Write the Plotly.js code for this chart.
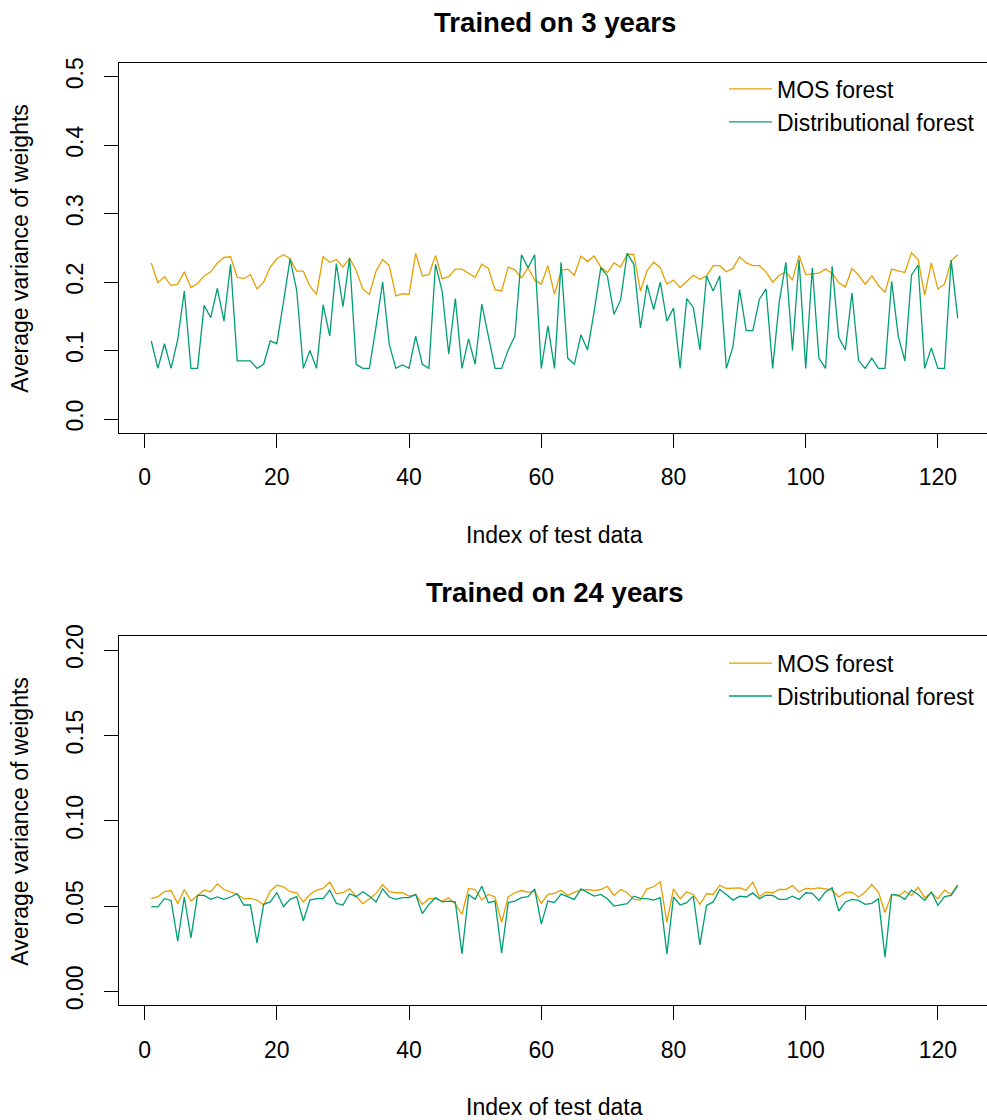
<!DOCTYPE html>
<html>
<head>
<meta charset="utf-8">
<script src="https://cdn.plot.ly/plotly-3.0.1.min.js"></script>
<style>
html, body { margin: 0; padding: 0; overflow: hidden; background: #fff; }
#chart { width: 990px; height: 1120px; }
</style>
</head>
<body>
<div id="chart"></div>
<script>
// x index of test data (1..123)
var testIndex = [];
for (var k = 1; k <= 123; k++) testIndex.push(k);

var seriesNames = ["MOS forest", "Distributional forest"];
var panelTitles = ["Trained on 3 years", "Trained on 24 years"];
var xLabel = "Index of test data";
var yLabel = "Average variance of weights";

var xTicks = [0, 20, 40, 60, 80, 100, 120];
var yTicksTop = [0, 0.1, 0.2, 0.3, 0.4, 0.5];
var yTickTextTop = ["0.0", "0.1", "0.2", "0.3", "0.4", "0.5"];
var yTicksBottom = [0, 0.05, 0.10, 0.15, 0.20];
var yTickTextBottom = ["0.00", "0.05", "0.10", "0.15", "0.20"];

// Trained on 3 years
var mos3 = [
0.228,0.199,0.208,0.195,0.197,0.215,0.192,0.198,0.209,0.215,
0.228,0.236,0.237,0.207,0.205,0.211,0.190,0.200,0.222,0.234,
0.240,0.234,0.216,0.216,0.194,0.182,0.237,0.229,0.233,0.222,
0.235,0.217,0.190,0.182,0.216,0.233,0.224,0.180,0.183,0.182,
0.242,0.209,0.211,0.239,0.205,0.208,0.219,0.219,0.213,0.207,
0.226,0.220,0.189,0.187,0.222,0.218,0.206,0.221,0.203,0.197,
0.224,0.182,0.217,0.219,0.210,0.238,0.230,0.238,0.222,0.214,
0.228,0.222,0.241,0.240,0.187,0.217,0.229,0.221,0.197,0.203,
0.192,0.201,0.210,0.204,0.209,0.224,0.224,0.215,0.220,0.237,
0.228,0.224,0.224,0.215,0.200,0.210,0.215,0.203,0.239,0.211,
0.212,0.213,0.219,0.213,0.199,0.193,0.220,0.210,0.197,0.209,
0.195,0.185,0.219,0.216,0.214,0.243,0.233,0.181,0.228,0.190,
0.197,0.231,0.240];

var dist3 = [
0.114,0.074,0.110,0.074,0.116,0.187,0.074,0.074,0.166,0.148,
0.191,0.143,0.226,0.085,0.085,0.085,0.074,0.080,0.114,0.110,
0.171,0.234,0.188,0.074,0.100,0.074,0.167,0.121,0.227,0.164,
0.235,0.080,0.074,0.074,0.135,0.200,0.109,0.074,0.079,0.074,
0.121,0.080,0.074,0.226,0.187,0.095,0.176,0.074,0.117,0.080,
0.168,0.121,0.074,0.074,0.101,0.121,0.240,0.221,0.240,0.074,
0.136,0.074,0.229,0.089,0.080,0.123,0.101,0.157,0.221,0.209,
0.153,0.174,0.242,0.226,0.133,0.196,0.160,0.200,0.143,0.162,
0.074,0.176,0.163,0.101,0.209,0.187,0.209,0.074,0.106,0.189,
0.129,0.129,0.175,0.190,0.074,0.171,0.229,0.100,0.233,0.074,
0.221,0.089,0.074,0.223,0.119,0.101,0.184,0.085,0.074,0.089,
0.074,0.074,0.201,0.121,0.085,0.210,0.225,0.074,0.104,0.074,
0.074,0.232,0.147];

// Trained on 24 years
var mos24 = [
0.0543,0.0555,0.0584,0.0591,0.0514,0.0597,0.0529,0.0562,0.0593,0.0584,
0.0630,0.0597,0.0582,0.0568,0.0543,0.0545,0.0535,0.0506,0.0587,0.0622,
0.0613,0.0584,0.0578,0.0524,0.0568,0.0593,0.0603,0.0640,0.0572,0.0578,
0.0601,0.0555,0.0514,0.0543,0.0574,0.0626,0.0584,0.0578,0.0578,0.0558,
0.0568,0.0510,0.0543,0.0545,0.0529,0.0549,0.0510,0.0452,0.0603,0.0597,
0.0535,0.0568,0.0553,0.0404,0.0553,0.0578,0.0591,0.0582,0.0587,0.0516,
0.0568,0.0574,0.0593,0.0562,0.0582,0.0593,0.0597,0.0591,0.0597,0.0616,
0.0562,0.0597,0.0578,0.0539,0.0535,0.0601,0.0613,0.0642,0.0404,0.0601,
0.0543,0.0582,0.0568,0.0510,0.0572,0.0568,0.0622,0.0603,0.0603,0.0607,
0.0593,0.0640,0.0555,0.0582,0.0578,0.0597,0.0597,0.0620,0.0582,0.0603,
0.0601,0.0607,0.0601,0.0593,0.0553,0.0578,0.0582,0.0553,0.0582,0.0626,
0.0582,0.0462,0.0568,0.0558,0.0587,0.0562,0.0611,0.0549,0.0578,0.0543,
0.0593,0.0568,0.0626];

var dist24 = [
0.0497,0.0495,0.0543,0.0533,0.0294,0.0553,0.0313,0.0562,0.0562,0.0539,
0.0553,0.0539,0.0553,0.0572,0.0506,0.0506,0.0284,0.0510,0.0524,0.0578,
0.0497,0.0539,0.0555,0.0414,0.0535,0.0543,0.0543,0.0593,0.0516,0.0506,
0.0572,0.0555,0.0584,0.0558,0.0524,0.0601,0.0553,0.0539,0.0549,0.0549,
0.0568,0.0456,0.0510,0.0549,0.0524,0.0529,0.0524,0.0220,0.0568,0.0539,
0.0616,0.0520,0.0529,0.0224,0.0520,0.0529,0.0549,0.0555,0.0601,0.0394,
0.0529,0.0520,0.0570,0.0553,0.0539,0.0601,0.0578,0.0558,0.0568,0.0543,
0.0500,0.0506,0.0514,0.0558,0.0545,0.0543,0.0535,0.0549,0.0220,0.0553,
0.0506,0.0520,0.0558,0.0272,0.0504,0.0524,0.0597,0.0568,0.0535,0.0558,
0.0553,0.0577,0.0543,0.0564,0.0562,0.0539,0.0539,0.0558,0.0539,0.0578,
0.0574,0.0533,0.0584,0.0607,0.0471,0.0524,0.0539,0.0533,0.0510,0.0516,
0.0543,0.0201,0.0568,0.0564,0.0539,0.0593,0.0568,0.0533,0.0582,0.0504,
0.0555,0.0562,0.0620];

var colMOS = "#E69F00";
var colDist = "#009E73";
var FONT = "Liberation Sans, Arial, Helvetica, sans-serif";

var traces = [
  {x: testIndex, y: mos3, type: "scatter", mode: "lines", name: seriesNames[0],
   line: {color: colMOS, width: 1.3}, xaxis: "x", yaxis: "y", legend: "legend"},
  {x: testIndex, y: dist3, type: "scatter", mode: "lines", name: seriesNames[1],
   line: {color: colDist, width: 1.3}, xaxis: "x", yaxis: "y", legend: "legend"},
  {x: testIndex, y: mos24, type: "scatter", mode: "lines", name: seriesNames[0],
   line: {color: colMOS, width: 1.3}, xaxis: "x2", yaxis: "y2", legend: "legend2"},
  {x: testIndex, y: dist24, type: "scatter", mode: "lines", name: seriesNames[1],
   line: {color: colDist, width: 1.3}, xaxis: "x2", yaxis: "y2", legend: "legend2"}
];

function xAxisDef(anchor) {
  return {
    anchor: anchor, domain: [0, 1], range: [-3.88, 127.88],
    tickmode: "array", tickvals: xTicks,
    ticks: "outside", ticklen: 14, tickwidth: 1, tickcolor: "#000",
    ticklabelstandoff: 10,
    showline: true, mirror: true, linecolor: "#000", linewidth: 1,
    showgrid: false, zeroline: false,
    tickfont: {family: FONT, size: 23, color: "#000"}
  };
}
function yAxisDef(anchor, domain, range, vals, texts) {
  return {
    anchor: anchor, domain: domain, range: range,
    tickmode: "array", tickvals: vals, ticktext: texts, tickangle: -90,
    ticks: "outside", ticklen: 14, tickwidth: 1, tickcolor: "#000",
    ticklabelstandoff: 12,
    showline: true, mirror: true, linecolor: "#000", linewidth: 1,
    showgrid: false, zeroline: false,
    tickfont: {family: FONT, size: 23, color: "#000"}
  };
}

var legendDef = function (ytop) {
  return {
    x: 0.6946, y: ytop, xanchor: "left", yanchor: "top",
    bgcolor: "rgba(0,0,0,0)", borderwidth: 0,
    itemwidth: 43, tracegroupgap: 0,
    font: {family: FONT, size: 23, color: "#000"}
  };
};

var layout = {
  width: 990, height: 1120,
  margin: {l: 119, r: 0, t: 63, b: 115},
  paper_bgcolor: "#fff", plot_bgcolor: "#fff",
  font: {family: FONT, size: 23, color: "#000"},
  showlegend: true,
  xaxis: xAxisDef("y"),
  yaxis: yAxisDef("x", [0.6075, 1], [-0.02, 0.52], yTicksTop, yTickTextTop),
  xaxis2: xAxisDef("y2"),
  yaxis2: yAxisDef("x2", [0, 0.3912], [-0.008, 0.208], yTicksBottom, yTickTextBottom),
  legend: legendDef(0.9953),
  legend2: legendDef(0.3857),
  annotations: [
    {text: "<b>" + panelTitles[0] + "</b>", xref: "paper", yref: "paper", x: 0.5, y: 1.0435,
     xanchor: "center", yanchor: "middle", showarrow: false, font: {family: FONT, size: 27.6}},
    {text: "<b>" + panelTitles[1] + "</b>", xref: "paper", yref: "paper", x: 0.5, y: 0.4374,
     xanchor: "center", yanchor: "middle", showarrow: false, font: {family: FONT, size: 27.6}},
    {text: xLabel, xref: "paper", yref: "paper", x: 0.5, y: 0.4989,
     xanchor: "center", yanchor: "middle", showarrow: false, font: {family: FONT, size: 23}},
    {text: xLabel, xref: "paper", yref: "paper", x: 0.5, y: -0.1083,
     xanchor: "center", yanchor: "middle", showarrow: false, font: {family: FONT, size: 23}},
    {text: yLabel, xref: "paper", yref: "paper", x: -0.1137, y: 0.8039, textangle: -90,
     xanchor: "center", yanchor: "middle", showarrow: false, font: {family: FONT, size: 23}},
    {text: yLabel, xref: "paper", yref: "paper", x: -0.1137, y: 0.1956, textangle: -90,
     xanchor: "center", yanchor: "middle", showarrow: false, font: {family: FONT, size: 23}}
  ]
};

Plotly.newPlot("chart", traces, layout, {displayModeBar: false, staticPlot: true});
</script>
</body>
</html>
